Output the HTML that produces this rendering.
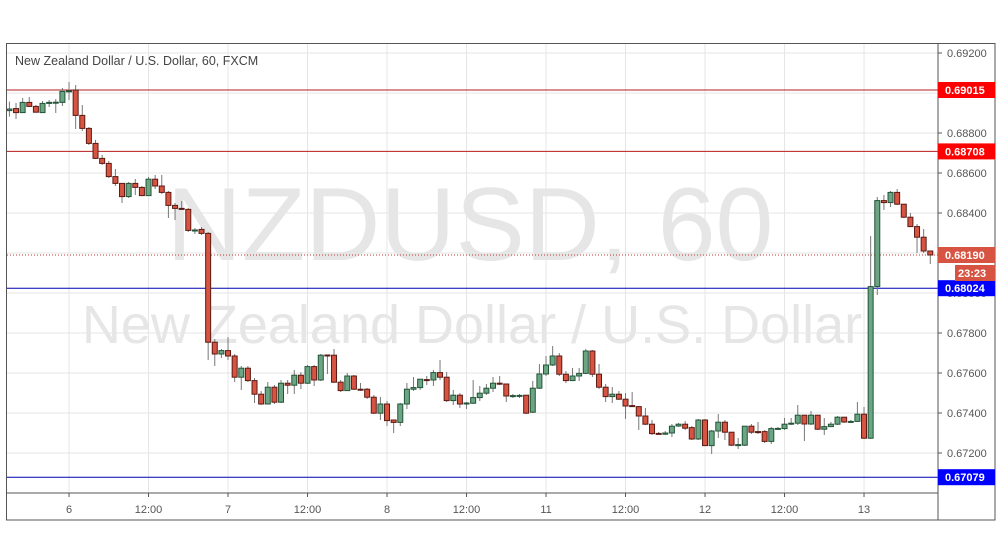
<!DOCTYPE html>
<html><head><meta charset="utf-8">
<style>
html,body{margin:0;padding:0;background:#fff;}
svg{display:block;font-family:"Liberation Sans",Arial,sans-serif;}
</style></head>
<body>
<svg id="chart" width="1002" height="557" viewBox="0 0 1002 557" xmlns="http://www.w3.org/2000/svg"></svg>
<script>
const opens=[0.68912,0.68922,0.68902,0.68953,0.68933,0.68902,0.68952,0.68952,0.68953,0.69008,0.69015,0.68888,0.68823,0.68748,0.68673,0.68648,0.68582,0.68548,0.68482,0.68548,0.68528,0.68487,0.68569,0.68535,0.68503,0.68438,0.68423,0.68418,0.68313,0.68318,0.68298,0.67754,0.67695,0.67712,0.67685,0.67579,0.67624,0.67562,0.67494,0.67445,0.67529,0.67454,0.67549,0.67539,0.67589,0.67549,0.67632,0.67565,0.67690,0.67689,0.67554,0.67512,0.67585,0.67519,0.67519,0.67479,0.67399,0.67445,0.67365,0.67353,0.67445,0.67519,0.67527,0.67567,0.67565,0.67602,0.67579,0.67462,0.67489,0.67447,0.67449,0.67477,0.67499,0.67524,0.67549,0.67545,0.67484,0.67485,0.67489,0.67404,0.67524,0.67595,0.67640,0.67685,0.67594,0.67562,0.67585,0.67598,0.67710,0.67594,0.67529,0.67482,0.67494,0.67469,0.67437,0.67432,0.67385,0.67344,0.67298,0.67294,0.67300,0.67335,0.67344,0.67327,0.67270,0.67365,0.67237,0.67310,0.67354,0.67304,0.67239,0.67239,0.67334,0.67307,0.67307,0.67258,0.67320,0.67322,0.67344,0.67349,0.67389,0.67345,0.67389,0.67319,0.67332,0.67344,0.67379,0.67355,0.67358,0.67394,0.67274,0.68032,0.68462,0.68452,0.68503,0.68444,0.68379,0.68332,0.68279,0.68210];
const highs=[0.68957,0.68950,0.68975,0.68980,0.68940,0.68960,0.68965,0.68970,0.69025,0.69055,0.69040,0.68940,0.68830,0.68765,0.68690,0.68660,0.68620,0.68550,0.68555,0.68570,0.68535,0.68580,0.68590,0.68590,0.68510,0.68450,0.68460,0.68425,0.68325,0.68330,0.68305,0.67770,0.67720,0.67780,0.67695,0.67635,0.67635,0.67575,0.67510,0.67555,0.67540,0.67565,0.67565,0.67615,0.67605,0.67640,0.67640,0.67695,0.67690,0.67720,0.67565,0.67600,0.67590,0.67550,0.67525,0.67490,0.67480,0.67460,0.67365,0.67450,0.67550,0.67580,0.67570,0.67585,0.67615,0.67665,0.67605,0.67515,0.67500,0.67455,0.67565,0.67535,0.67545,0.67580,0.67585,0.67545,0.67495,0.67495,0.67490,0.67560,0.67645,0.67685,0.67735,0.67700,0.67610,0.67625,0.67625,0.67720,0.67715,0.67645,0.67545,0.67530,0.67510,0.67500,0.67505,0.67435,0.67425,0.67365,0.67305,0.67310,0.67345,0.67350,0.67360,0.67335,0.67370,0.67370,0.67315,0.67395,0.67365,0.67305,0.67275,0.67335,0.67345,0.67355,0.67315,0.67330,0.67330,0.67375,0.67375,0.67440,0.67390,0.67410,0.67390,0.67375,0.67355,0.67385,0.67380,0.67365,0.67455,0.67430,0.68285,0.68480,0.68490,0.68510,0.68520,0.68445,0.68400,0.68345,0.68320,0.68210];
const lows=[0.68882,0.68870,0.68900,0.68930,0.68905,0.68900,0.68930,0.68900,0.68935,0.68965,0.68820,0.68810,0.68740,0.68670,0.68640,0.68575,0.68535,0.68450,0.68475,0.68490,0.68485,0.68485,0.68520,0.68495,0.68375,0.68365,0.68415,0.68305,0.68295,0.68290,0.67665,0.67635,0.67675,0.67665,0.67555,0.67515,0.67555,0.67450,0.67440,0.67445,0.67445,0.67450,0.67495,0.67495,0.67520,0.67545,0.67535,0.67560,0.67595,0.67550,0.67505,0.67510,0.67515,0.67510,0.67470,0.67395,0.67365,0.67335,0.67300,0.67335,0.67420,0.67510,0.67515,0.67540,0.67535,0.67565,0.67455,0.67440,0.67425,0.67420,0.67445,0.67460,0.67490,0.67505,0.67540,0.67455,0.67475,0.67475,0.67395,0.67400,0.67520,0.67585,0.67635,0.67585,0.67550,0.67560,0.67560,0.67595,0.67580,0.67520,0.67455,0.67450,0.67465,0.67370,0.67430,0.67315,0.67340,0.67290,0.67295,0.67290,0.67280,0.67330,0.67315,0.67265,0.67265,0.67235,0.67195,0.67275,0.67265,0.67235,0.67220,0.67235,0.67295,0.67295,0.67250,0.67245,0.67315,0.67315,0.67340,0.67340,0.67260,0.67340,0.67315,0.67290,0.67330,0.67340,0.67350,0.67350,0.67355,0.67270,0.67270,0.67990,0.68415,0.68430,0.68440,0.68375,0.68330,0.68200,0.68200,0.68145];
const closes=[0.68920,0.68902,0.68953,0.68933,0.68904,0.68948,0.68953,0.68954,0.69008,0.69011,0.68888,0.68823,0.68748,0.68673,0.68648,0.68582,0.68548,0.68482,0.68548,0.68528,0.68487,0.68569,0.68535,0.68503,0.68438,0.68423,0.68421,0.68313,0.68315,0.68298,0.67754,0.67695,0.67712,0.67685,0.67579,0.67624,0.67562,0.67494,0.67445,0.67529,0.67454,0.67549,0.67539,0.67589,0.67549,0.67632,0.67565,0.67689,0.67688,0.67554,0.67512,0.67585,0.67519,0.67517,0.67479,0.67399,0.67445,0.67362,0.67353,0.67445,0.67519,0.67527,0.67569,0.67565,0.67602,0.67579,0.67462,0.67489,0.67445,0.67450,0.67477,0.67499,0.67524,0.67549,0.67545,0.67485,0.67487,0.67488,0.67399,0.67524,0.67595,0.67640,0.67685,0.67594,0.67562,0.67585,0.67598,0.67710,0.67594,0.67529,0.67482,0.67494,0.67469,0.67435,0.67435,0.67385,0.67344,0.67297,0.67295,0.67300,0.67334,0.67344,0.67324,0.67270,0.67365,0.67237,0.67310,0.67354,0.67304,0.67239,0.67242,0.67334,0.67304,0.67304,0.67258,0.67322,0.67323,0.67344,0.67349,0.67389,0.67345,0.67389,0.67319,0.67332,0.67344,0.67379,0.67355,0.67358,0.67394,0.67274,0.68032,0.68462,0.68452,0.68503,0.68444,0.68379,0.68332,0.68279,0.68210,0.68190];
const yTicks=[0.692,0.690,0.688,0.686,0.684,0.682,0.680,0.678,0.676,0.674,0.672];
const xTickLabels=["6","12:00","7","12:00","8","12:00","11","12:00","12","12:00","13"];
const xTickIndex=[9,21,33,45,57,69,81,93,105,117,129];
const levelValues=[0.69015,0.68708,0.68024,0.67079];
const levelColors=["#b71c1c","#b71c1c","#0000b0","#0000b0"];
const lastPrice=0.68190;

const NS="http://www.w3.org/2000/svg";
const svg=document.getElementById('chart');
const L=7,R=938,T=43,B=493;
function y(v){return 53+(0.692-v)*20000;}
function x(i){return 9.4+i*6.625;}
function el(tag,attrs,parent){const e=document.createElementNS(NS,tag);for(const k in attrs)e.setAttribute(k,attrs[k]);(parent||svg).appendChild(e);return e;}

const grid=el('g',{});


yTicks.forEach(v=>{el('line',{x1:L,x2:R,y1:y(v),y2:y(v),stroke:'#e6e6e6','stroke-width':1},grid);});
xTickIndex.forEach(i=>{el('line',{x1:x(i),x2:x(i),y1:T,y2:B,stroke:'#e6e6e6','stroke-width':1},grid);});

const wm1=el('text',{x:470,y:260,'font-size':104,fill:'#e6e6e6','text-anchor':'middle'});


wm1.textContent='NZDUSD, 60';
const wm2=el('text',{x:472,y:343,'font-size':54,fill:'#e6e6e6','text-anchor':'middle'});


wm2.textContent='New Zealand Dollar / U.S. Dollar';

const title=el('text',{x:15,y:65,'font-size':12.5,fill:'#444'});


title.textContent='New Zealand Dollar / U.S. Dollar, 60, FXCM';

levelValues.forEach((v,k)=>{
  const ln=el('line',{x1:L,x2:R,y1:y(v),y2:y(v),stroke:levelColors[k],'stroke-width':1});
  
  
});
const lp=el('line',{x1:L,x2:R,y1:y(lastPrice),y2:y(lastPrice),stroke:'#c0392b','stroke-width':1,'stroke-dasharray':'1,2'});



const cg=el('g',{});


for(let i=0;i<opens.length;i++){
  const up=closes[i]>=opens[i];
  const fill=up?'#6ba583':'#d75442';
  const stroke=up?'#225437':'#5b1a13';
  const cx=x(i);
  const g=el('g',{},cg);
  
  
  el('line',{x1:cx,x2:cx,y1:y(highs[i]),y2:y(lows[i]),stroke:'#777','stroke-width':1},g);
  const top=y(Math.max(opens[i],closes[i])),bot=y(Math.min(opens[i],closes[i]));
  el('rect',{x:cx-2.5,y:top,width:5,height:Math.max(1,bot-top),fill:fill,stroke:stroke,'stroke-width':1},g);
}

const fr=el('rect',{x:6.5,y:43.5,width:988.5,height:476.5,fill:'none',stroke:'#555','stroke-width':1});


const ya=el('line',{x1:R,x2:R,y1:43,y2:520,stroke:'#555','stroke-width':1});


const xa=el('line',{x1:6.5,x2:R,y1:B,y2:B,stroke:'#555','stroke-width':1});



yTicks.forEach(v=>{
  el('line',{x1:R,x2:R+4,y1:y(v),y2:y(v),stroke:'#555'});
  const t=el('text',{x:947,y:y(v)+4,'font-size':11,fill:'#555'});
  
  
  t.textContent=v.toFixed(5);
});
xTickIndex.forEach((i,k)=>{
  el('line',{x1:x(i),x2:x(i),y1:B,y2:B+4,stroke:'#555'});
  const t=el('text',{x:x(i),y:513,'font-size':11,fill:'#555','text-anchor':'middle'});
  
  
  t.textContent=xTickLabels[k];
});

function badge(v,color,label,name){
  const g=el('g',{});
  
  
  const yy=y(v);
  el('rect',{x:R,y:yy-8,width:57,height:16,fill:color},g);
  const t=el('text',{x:945,y:yy+4,'font-size':11,'font-weight':'bold',fill:'#fff'},g);
  t.textContent=label;
}
levelValues.forEach((v,k)=>badge(v,k<2?'#ff0000':'#0000ff',v.toFixed(5),'level-price-badge'));
badge(lastPrice,'#d75442',lastPrice.toFixed(5),'last-price-badge');
const cd=el('g',{});


el('rect',{x:955,y:y(lastPrice)+10,width:40,height:16,fill:'#d75442'},cd);
const ct=el('text',{x:958,y:y(lastPrice)+22,'font-size':11,'font-weight':'bold',fill:'#fff'},cd);
ct.textContent='23:23';
</script>
</body></html>
